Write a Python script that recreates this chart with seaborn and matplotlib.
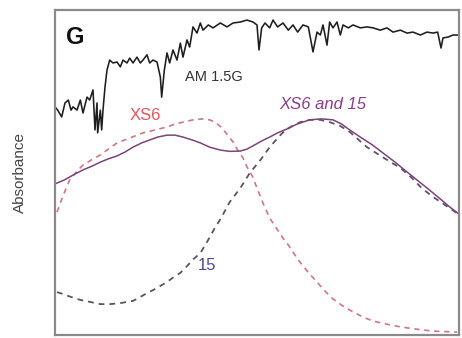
import numpy as np
import pandas as pd
import seaborn as sns
import matplotlib.pyplot as plt

# Spectra (wavelength in nm, normalised absorbance / irradiance)
am15g_nm = [300, 304, 310, 315, 320, 324, 327, 333, 338, 342, 348, 352, 357, 360, 363,
            364, 368, 370, 372, 375, 378, 382, 387, 393, 398, 402, 408, 412, 417, 423,
            428, 432, 438, 442, 447, 453, 458, 460, 464, 468, 472, 477, 483, 488, 492,
            498, 502, 507, 513, 518, 522, 530, 537, 548, 558, 567, 578, 588, 597, 603,
            606, 610, 615, 622, 627, 634, 642, 650, 657, 664, 672, 680, 687, 693, 698,
            702, 708, 712, 717, 723, 728, 732, 740, 747, 758, 768, 777, 788, 798, 807,
            818, 828, 837, 848, 858, 867, 874, 879, 882, 890, 897, 906]
am15g_val = [0.702, 0.692, 0.671, 0.714, 0.723, 0.692, 0.702, 0.692, 0.723, 0.683,
             0.732, 0.723, 0.754, 0.631, 0.714, 0.622, 0.692, 0.631, 0.692, 0.763,
             0.815, 0.846, 0.837, 0.840, 0.825, 0.846, 0.837, 0.852, 0.837, 0.855,
             0.837, 0.846, 0.862, 0.837, 0.846, 0.840, 0.794, 0.732, 0.815, 0.868,
             0.837, 0.877, 0.846, 0.898, 0.855, 0.908, 0.886, 0.948, 0.929, 0.960,
             0.938, 0.954, 0.945, 0.960, 0.948, 0.960, 0.963, 0.969, 0.963, 0.954,
             0.877, 0.945, 0.960, 0.945, 0.969, 0.948, 0.960, 0.938, 0.954, 0.932,
             0.954, 0.948, 0.871, 0.932, 0.923, 0.954, 0.892, 0.963, 0.945, 0.963,
             0.923, 0.954, 0.945, 0.954, 0.945, 0.948, 0.945, 0.938, 0.945, 0.932,
             0.938, 0.929, 0.932, 0.923, 0.932, 0.929, 0.932, 0.883, 0.914, 0.917,
             0.923, 0.923]

xs6_nm = [303, 312, 322, 332, 342, 354, 368, 380, 393, 412, 432, 450, 468, 480, 492,
          507, 522, 532, 540, 549, 558, 567, 574, 582, 588, 596, 603, 612, 622, 632,
          642, 650, 657, 664, 672, 682, 693, 705, 717, 732, 747, 762, 777, 796, 818,
          842, 867, 903]
xs6_abs = [0.378, 0.428, 0.477, 0.502, 0.523, 0.538, 0.554, 0.572, 0.591, 0.606,
           0.622, 0.631, 0.640, 0.649, 0.655, 0.662, 0.665, 0.662, 0.655, 0.640,
           0.618, 0.594, 0.569, 0.545, 0.517, 0.489, 0.452, 0.406, 0.360, 0.329,
           0.298, 0.277, 0.255, 0.234, 0.212, 0.188, 0.163, 0.135, 0.111, 0.089,
           0.071, 0.055, 0.043, 0.034, 0.025, 0.018, 0.012, 0.009]

c15_nm = [303, 312, 324, 338, 352, 368, 382, 398, 408, 417, 428, 438, 447, 458, 468,
          478, 488, 498, 508, 518, 528, 538, 550, 562, 578, 592, 608, 622, 638, 646,
          656, 668, 682, 698, 712, 728, 742, 754, 768, 784, 801, 818, 834, 850, 867,
          885, 903]
c15_abs = [0.132, 0.126, 0.117, 0.108, 0.102, 0.095, 0.095, 0.098, 0.102, 0.105,
           0.117, 0.129, 0.138, 0.151, 0.163, 0.178, 0.191, 0.212, 0.234, 0.252,
           0.286, 0.323, 0.363, 0.409, 0.452, 0.498, 0.538, 0.578, 0.615, 0.631,
           0.643, 0.655, 0.662, 0.662, 0.655, 0.643, 0.625, 0.603, 0.578, 0.557,
           0.535, 0.514, 0.486, 0.452, 0.425, 0.400, 0.375]

mix_nm = [300, 314, 327, 342, 356, 368, 380, 393, 405, 417, 430, 442, 454, 468, 480,
          492, 506, 518, 532, 548, 562, 578, 588, 597, 610, 622, 634, 648, 663, 682,
          700, 717, 730, 742, 758, 776, 792, 810, 826, 843, 860, 876, 892, 906]
mix_abs = [0.465, 0.477, 0.492, 0.508, 0.520, 0.532, 0.542, 0.551, 0.563, 0.578,
           0.591, 0.600, 0.609, 0.615, 0.615, 0.609, 0.600, 0.591, 0.578, 0.569,
           0.565, 0.566, 0.572, 0.582, 0.597, 0.609, 0.622, 0.634, 0.649, 0.662,
           0.665, 0.662, 0.649, 0.631, 0.609, 0.585, 0.560, 0.532, 0.505, 0.477,
           0.449, 0.422, 0.394, 0.372]

sns.set_style("white")
plt.rcParams['font.family'] = ['Liberation Sans', 'DejaVu Sans']

fig = plt.figure(figsize=(4.62, 3.38), dpi=100)
ax = fig.add_axes([55 / 462, 3 / 338, 404 / 462, 325 / 338])

sns.lineplot(x=am15g_nm, y=am15g_val, color='#1e1e1e', lw=1.15, ax=ax, sort=False)
sns.lineplot(x=xs6_nm, y=xs6_abs, color='#cf7584', lw=1.2, ax=ax,
             linestyle=(0, (3.2, 2.8)))
sns.lineplot(x=c15_nm, y=c15_abs, color='#5e5068', lw=1.3, ax=ax,
             linestyle=(0, (3.2, 2.8)))
sns.lineplot(x=mix_nm, y=mix_abs, color='#7a4478', lw=1.1, ax=ax)

ax.set_xlim(300, 906)
ax.set_ylim(0, 1)
ax.set_xticks([])
ax.set_yticks([])
ax.set_xlabel("")
ax.set_ylabel("Absorbance", fontsize=11, color='#444444')
ax.yaxis.set_label_coords(-0.07, 0.5)

for s in ax.spines.values():
    s.set_color('#8a8a8a')
    s.set_linewidth(1.6)

# Annotations
ax.text(330, 0.914, "G", fontsize=17, fontweight='bold', ha='center', va='center',
        color='#111111')
ax.text(495, 0.794, "AM 1.5G", fontsize=10.5, ha='left', va='center', color='#333333')
ax.text(412, 0.674, "XS6", fontsize=12, ha='left', va='center', color='#e2575e')
ax.text(636, 0.708, "XS6 and 15", fontsize=12, style='italic', ha='left', va='center',
        color='#8c3c8c')
ax.text(514, 0.214, "15", fontsize=12, ha='left', va='center', color='#4b4b8f')

fig.savefig("out.png", dpi=100)
